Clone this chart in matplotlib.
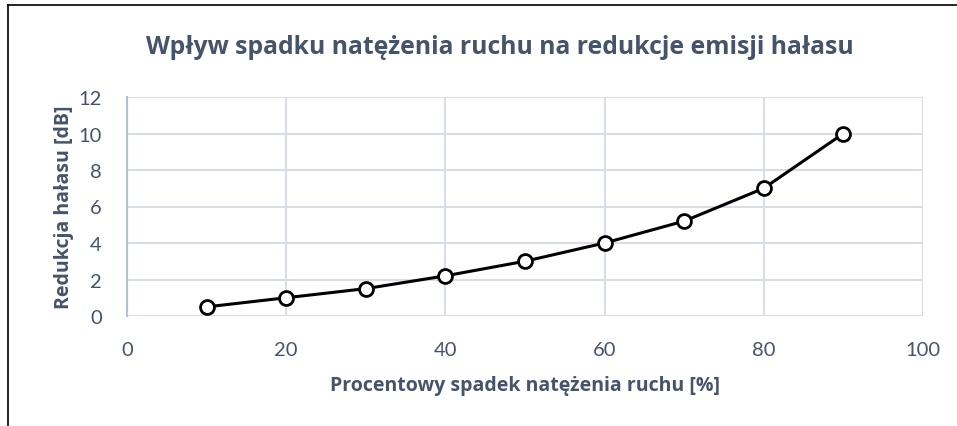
import matplotlib
matplotlib.use("Agg")
import matplotlib.pyplot as plt
from matplotlib.lines import Line2D

# dane
spadek = [10, 20, 30, 40, 50, 60, 70, 80, 90]
redukcja = [0.5, 1.0, 1.5, 2.2, 3.0, 4.0, 5.2, 7.0, 10.0]
x_ticks = [0, 20, 40, 60, 80, 100]
y_ticks = [0, 2, 4, 6, 8, 10, 12]

tytul = "Wpływ spadku natężenia ruchu na redukcje emisji hałasu"
opis_x = "Procentowy spadek natężenia ruchu [%]"
opis_y = "Redukcja hałasu [dB]"

kolor_tekstu = "#44546A"
kolor_siatki = "#D9DEE6"

plt.rcParams['font.family'] = ['Lato', 'DejaVu Sans']
pogrubiona = ['Open Sans', 'DejaVu Sans']

fig = plt.figure(figsize=(9.57, 4.27), dpi=100)
ax = fig.add_axes([127/957, 110/427, 796/957, 219/427])

ax.plot(spadek, redukcja, color="black", lw=2.2, marker="o", markersize=10,
        markerfacecolor="white", markeredgecolor="black", markeredgewidth=2,
        zorder=3, clip_on=False)

ax.set_xlim(0, 100)
ax.set_ylim(0, 12)
ax.set_xticks(x_ticks)
ax.set_yticks(y_ticks)
ax.grid(True, color=kolor_siatki, lw=1.5)
ax.set_axisbelow(True)

for s in ["top", "right", "bottom"]:
    ax.spines[s].set_visible(False)
ax.spines["left"].set_color("#B4C0D4")
ax.spines["left"].set_linewidth(1.5)

ax.tick_params(axis="both", length=0, labelsize=14.5, labelcolor=kolor_tekstu)
ax.tick_params(axis="y", pad=18)
ax.tick_params(axis="x", pad=18)

ax.set_xlabel(opis_x, fontsize=14, fontweight="bold", color=kolor_tekstu,
              labelpad=12, family=pogrubiona)
ax.set_ylabel(opis_y, fontsize=14, fontweight="bold", color=kolor_tekstu,
              labelpad=3, family=pogrubiona)

fig.text(500/957, 1 - 47/427, tytul, ha="center", va="center", fontsize=17.8,
         fontweight="bold", color=kolor_tekstu, family=pogrubiona)

# ramka wykresu
fig.add_artist(Line2D([8/957, 1], [1 - 6/427, 1 - 6/427], color="black", lw=1.2,
                      transform=fig.transFigure))
fig.add_artist(Line2D([8/957, 8/957], [0, 1 - 6/427], color="black", lw=1.2,
                      transform=fig.transFigure))

fig.savefig("out.png", dpi=100)
